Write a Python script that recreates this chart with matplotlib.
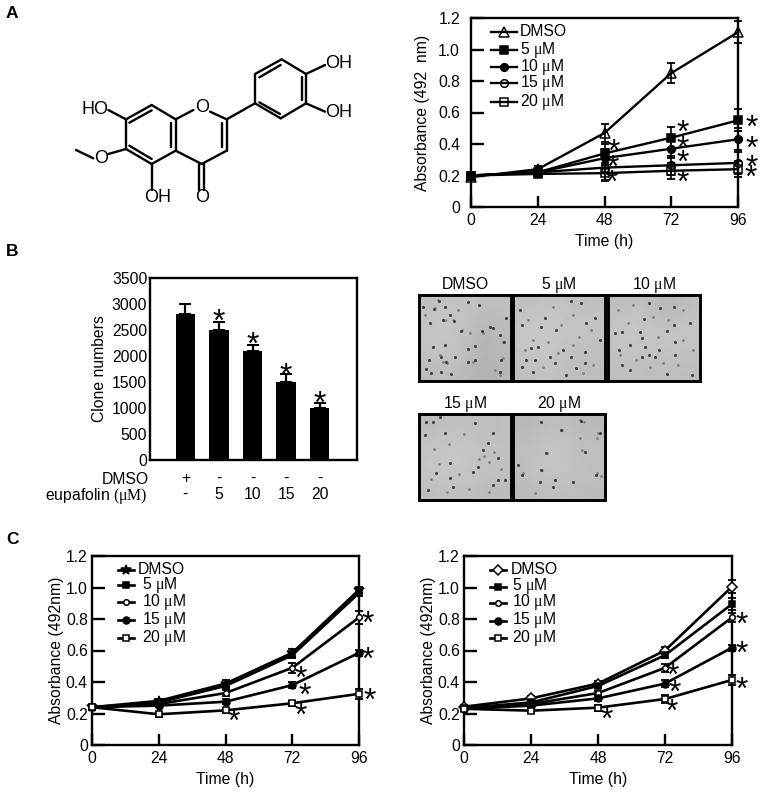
#!/usr/bin/env python3

import matplotlib
matplotlib.use('Agg')
from matplotlib import pyplot as plt

plt.rcParams['font.family'] = ['Liberation Sans', 'DejaVu Sans']
plt.rcParams['mathtext.fontset'] = 'custom'
plt.rcParams['mathtext.rm'] = 'Liberation Serif'
plt.rcParams['mathtext.it'] = 'Liberation Serif'
plt.rcParams['mathtext.default'] = 'rm'

W = 762
H = 795
FS = 11.3

time_h = [0, 24, 48, 72, 96]
time_labels = ['0', '24', '48', '72', '96']
absorb_ticks = [0, 0.2, 0.4, 0.6, 0.8, 1.0, 1.2]
absorb_labels = ['0', '0.2', '0.4', '0.6', '0.8', '1.0', '1.2']

# panel A, growth curves
a_dmso = [0.19, 0.24, 0.47, 0.85, 1.11]
a_5 = [0.20, 0.22, 0.34, 0.44, 0.55]
a_10 = [0.20, 0.22, 0.31, 0.37, 0.43]
a_15 = [0.20, 0.22, 0.25, 0.265, 0.28]
a_20 = [0.20, 0.21, 0.215, 0.23, 0.24]
a_dmso_err = [0.02, 0.02, 0.055, 0.065, 0.07]
a_5_err = [0.02, 0.02, 0.06, 0.065, 0.07]
a_10_err = [0.02, 0.02, 0.06, 0.06, 0.07]
a_15_err = [0.02, 0.02, 0.08, 0.06, 0.07]
a_20_err = [0.02, 0.02, 0.05, 0.05, 0.05]
a_star_x = [100.8, 100.8, 100.8, 100.4, 76, 76.3, 76, 76.3, 51.4, 50.8, 50.6]
a_star_y = [0.54, 0.41, 0.286, 0.22, 0.508, 0.41, 0.315, 0.19, 0.385, 0.286, 0.188]

# panel B, clone counts
clone_values = [2800, 2500, 2100, 1500, 1000]
clone_err = [200, 150, 120, 150, 100]
clone_ticks = [0, 500, 1000, 1500, 2000, 2500, 3000, 3500]
clone_labels = ['+\n-', '-\n5', '-\n10', '-\n15', '-\n20']
b_star_y = [2774, 2325, 1734, 1201]

# panel C left
cl_dmso = [0.24, 0.28, 0.39, 0.585, 0.985]
cl_5 = [0.24, 0.27, 0.375, 0.57, 0.965]
cl_10 = [0.24, 0.26, 0.33, 0.49, 0.81]
cl_15 = [0.24, 0.25, 0.275, 0.38, 0.585]
cl_20 = [0.24, 0.195, 0.22, 0.265, 0.325]
cl_dmso_err = [0.01, 0.015, 0.02, 0.025, 0.02]
cl_5_err = [0.01, 0.015, 0.02, 0.02, 0.02]
cl_10_err = [0.01, 0.01, 0.02, 0.03, 0.04]
cl_15_err = [0.01, 0.01, 0.015, 0.02, 0.02]
cl_20_err = [0.015, 0.015, 0.015, 0.015, 0.03]
cl_star_x = [99.2, 99.2, 99.8, 75.1, 76.5, 75.1, 51.0]
cl_star_y = [0.808, 0.578, 0.317, 0.461, 0.353, 0.226, 0.184]

# panel C right
cr_dmso = [0.243, 0.296, 0.39, 0.60, 1.005]
cr_5 = [0.235, 0.27, 0.375, 0.57, 0.895]
cr_10 = [0.235, 0.26, 0.33, 0.49, 0.81]
cr_15 = [0.23, 0.25, 0.296, 0.39, 0.618]
cr_20 = [0.23, 0.218, 0.237, 0.292, 0.413]
cr_dmso_err = [0.01, 0.015, 0.015, 0.025, 0.04]
cr_5_err = [0.01, 0.01, 0.015, 0.02, 0.04]
cr_10_err = [0.01, 0.01, 0.015, 0.025, 0.03]
cr_15_err = [0.01, 0.01, 0.015, 0.02, 0.02]
cr_20_err = [0.01, 0.015, 0.02, 0.025, 0.03]
cr_star_x = [99.6, 99.6, 99.6, 74.9, 75.5, 74.5, 51]
cr_star_y = [0.80, 0.614, 0.39, 0.48, 0.37, 0.25, 0.197]

dose_labels = ['DMSO', '5 $\\mu$M', '10 $\\mu$M', '15 $\\mu$M', '20 $\\mu$M']

# colonies in the plate photos, pixels inside each square
plate_titles = ['DMSO', '5 $\\mu$M', '10 $\\mu$M', '15 $\\mu$M', '20 $\\mu$M']
plate_dmso_x = [11, 15, 20, 26, 31, 35, 24, 42, 49, 60, 71, 63, 74, 81, 85, 14, 26, 49, 56, 10, 22, 27, 36, 49, 56, 82, 7, 12, 22, 32, 81, 4, 87]
plate_dmso_y = [28, 14, 6, 12, 20, 26, 25, 36, 7, 10, 32, 36, 33, 40, 47, 52, 50, 54, 51, 65, 62, 67, 62, 67, 65, 65, 74, 78, 77, 79, 77, 12, 23]
plate_5_x = [9, 32, 28, 43, 58, 68, 73, 82, 18, 25, 50, 58, 72, 72, 13, 22, 42, 53, 20, 9, 37, 63, 87, 7]
plate_5_y = [30, 23, 32, 35, 6, 8, 28, 23, 53, 52, 55, 62, 57, 68, 65, 65, 68, 80, 77, 72, 62, 73, 45, 15]
plate_10_x = [36, 14, 32, 59, 41, 52, 66, 66, 34, 37, 11, 22, 51, 47, 34, 41, 14, 7, 59, 84, 67, 82, 67, 22]
plate_10_y = [24, 37, 37, 36, 8, 13, 12, 30, 43, 52, 55, 50, 55, 62, 62, 60, 70, 38, 79, 80, 47, 28, 60, 75]
plate_15_x = [6, 74, 79, 54, 59, 79, 31, 17, 9, 34, 74, 69, 14, 26, 31, 7, 21, 56, 86, 64]
plate_15_y = [21, 19, 44, 58, 53, 66, 64, 59, 76, 73, 71, 29, 8, 19, 49, 8, 3, 9, 66, 36]
plate_20_x = [9, 5, 28, 28, 68, 48, 60, 42, 27, 72, 83, 40, 33, 87]
plate_20_y = [61, 51, 56, 8, 7, 16, 68, 66, 68, 38, 61, 73, 39, 19]

# fainter colonies
faint_dmso_x = [6, 19, 16, 26, 34, 43, 51, 64, 71, 84, 84, 14, 21, 24, 28, 49, 54, 76, 81, 39]
faint_dmso_y = [20, 5, 13, 25, 25, 35, 38, 38, 32, 47, 63, 52, 60, 67, 68, 67, 67, 75, 80, 15]
faint_5_x = [15, 40, 20, 35, 48, 60, 66, 78, 30, 45, 60, 80, 12, 70]
faint_5_y = [25, 12, 45, 47, 30, 20, 42, 35, 72, 58, 50, 70, 55, 78]
faint_10_x = [10, 25, 20, 45, 60, 75, 50, 75, 28, 42, 70, 12, 85, 55]
faint_10_y = [15, 10, 28, 22, 25, 15, 42, 45, 65, 72, 70, 60, 55, 68]
faint_15_x = [15, 30, 45, 60, 70, 75, 65, 20, 40, 50, 70, 82, 12, 28]
faint_15_y = [35, 30, 20, 45, 48, 38, 42, 50, 60, 75, 78, 55, 65, 78]
faint_20_x = [67, 71, 49, 85, 84, 34, 72, 69, 10, 29, 42, 60, 22, 84, 88, 67]
faint_20_y = [6, 8, 16, 19, 24, 39, 38, 36, 59, 56, 66, 68, 79, 59, 62, 24]

# rough brightness of each plate photo, coarse grid read by eye
plate_dmso_tone = [[198, 202, 204, 198, 200], [204, 206, 202, 192, 196], [202, 206, 200, 186, 194],
                   [200, 204, 198, 184, 192], [194, 198, 192, 182, 190]]
plate_5_tone = [[198, 200, 204, 196, 200], [204, 208, 206, 202, 202], [206, 208, 204, 204, 200],
                [202, 206, 204, 198, 198], [198, 202, 200, 196, 196]]
plate_10_tone = [[196, 200, 194, 190, 198], [202, 206, 200, 198, 202], [204, 206, 202, 204, 204],
                 [200, 202, 200, 202, 200], [198, 200, 196, 196, 196]]
plate_15_tone = [[194, 198, 200, 196, 198], [200, 204, 204, 198, 198], [204, 206, 206, 202, 200],
                 [204, 206, 204, 200, 200], [196, 200, 200, 196, 194]]
plate_20_tone = [[190, 194, 198, 194, 192], [196, 200, 202, 198, 196], [198, 202, 204, 200, 198],
                 [198, 202, 202, 200, 198], [192, 196, 198, 196, 194]]

# eupafolin skeleton, in 3x pixels of the top left corner
bonds = [
    ((378, 358), (455, 315)), ((388, 368), (455, 331)), ((455, 315), (527, 358)),
    ((527, 358), (527, 452)), ((513, 368), (513, 442)), ((527, 452), (455, 492)),
    ((455, 492), (378, 447)), ((455, 477), (388, 437)), ((378, 447), (378, 358)),
    ((527, 358), (580, 330)), ((630, 335), (680, 358)), ((680, 358), (680, 452)),
    ((665, 370), (665, 440)), ((680, 452), (605, 492)), ((605, 492), (527, 452)),
    ((597, 492), (597, 570)), ((613, 492), (613, 570)), ((680, 358), (765, 310)),
    ((765, 310), (842, 355)), ((778, 307), (840, 342)), ((842, 355), (918, 310)),
    ((918, 310), (918, 222)), ((905, 300), (905, 232)), ((918, 222), (845, 178)),
    ((845, 178), (765, 222)), ((842, 195), (778, 232)), ((765, 222), (765, 310)),
    ((918, 222), (975, 195)), ((918, 310), (975, 335)), ((378, 358), (325, 330)),
    ((378, 447), (325, 462)), ((280, 475), (228, 450)), ((455, 492), (455, 570)),
]
atoms = [('O', 605, 322), ('O', 605, 592), ('OH', 1015, 190), ('OH', 1015, 338),
         ('HO', 285, 327), ('O', 302, 475), ('OH', 472, 592)]


def px_axes(fig, left, top, right, bottom):
    return fig.add_axes([left / W, 1 - bottom / H, (right - left) / W, (bottom - top) / H])


def star(ax, x, y, size=23):
    # asterisk sits high in the em box, so pull the baseline down
    ax.annotate('*', (x, y), xytext=(0, -0.47 * size), textcoords='offset points',
                ha='center', va='baseline', fontsize=size, annotation_clip=False, zorder=6)


def frame(ax, lw=1.7):
    for s in ax.spines.values():
        s.set_linewidth(lw)


def key_rows(ax, styles, rows, handle, text_x):
    # hand placed key, rows are not evenly spaced in the original
    h = ax.bbox.height
    w = ax.bbox.width
    for st, row, label, tx in zip(styles, rows, dose_labels, text_x):
        y = 1 - row / h
        ax.plot([handle[0] / w, handle[1] / w], [y, y], transform=ax.transAxes, color='k', lw=st['lw'], zorder=5)
        ax.plot([(handle[0] + handle[1]) / 2 / w], [y], transform=ax.transAxes, color='k', marker=st['m'],
                ms=st['ms'], mfc=st['mfc'], mec='k', mew=1.1, zorder=5)
        ax.text(tx / w, y, label, transform=ax.transAxes, fontsize=FS, ha='left', va='center')


def curve_panel(ax, series, errors, styles, star_x, star_y, ylabel, rows, handle, text_x, ypad, ylabelpad):
    for vals, err, st in zip(series, errors, styles):
        ax.errorbar(time_h, vals, yerr=err, fmt='none', ecolor='k', elinewidth=1.2,
                    capsize=3, capthick=1.3, clip_on=False, zorder=3)
        ax.plot(time_h, vals, color='k', lw=st['lw'], marker=st['m'], ms=st['ms'],
                mfc=st['mfc'], mec='k', mew=1.1, clip_on=False, zorder=4)
    for x, y in zip(star_x, star_y):
        star(ax, x, y)
    ax.set_xlim(0, 96)
    ax.set_ylim(0, 1.2)
    ax.set_xticks(time_h)
    ax.set_xticklabels(time_labels)
    ax.set_yticks(absorb_ticks)
    ax.set_yticklabels(absorb_labels)
    ax.tick_params(axis='x', direction='in', length=8, width=1.7, labelsize=FS, pad=4.5)
    ax.tick_params(axis='y', direction='in', length=9.5, width=1.7, labelsize=FS, pad=ypad)
    ax.set_xlabel('Time (h)', fontsize=FS, labelpad=4)
    ax.set_ylabel(ylabel, fontsize=FS, labelpad=ylabelpad)
    frame(ax)
    key_rows(ax, styles, rows, handle, text_x)


def main():
    fig = plt.figure(figsize=(W / 100, H / 100), dpi=100)

    # panel letters
    fig.text(6 / W, 1 - 13 / H, 'A', fontsize=12.5, fontweight='bold', va='center')
    fig.text(6 / W, 1 - 252 / H, 'B', fontsize=12.5, fontweight='bold', va='center')
    fig.text(6 / W, 1 - 540 / H, 'C', fontsize=12.5, fontweight='bold', va='center')

    # structure
    ax = fig.add_axes([0, 1 - 240 / H, 400 / W, 240 / H])
    ax.set_xlim(0, 1200)
    ax.set_ylim(720, 0)
    ax.axis('off')
    for p, q in bonds:
        ax.plot([p[0], q[0]], [p[1], q[1]], color='k', lw=1.7, solid_capstyle='round')
    for name, x, y in atoms:
        ax.text(x, y, name, fontsize=13, ha='center', va='center')

    # A
    ax = px_axes(fig, 471, 18, 738, 207)
    styles_a = [
        {'m': '^', 'ms': 6.5, 'mfc': 'none', 'lw': 1.7},
        {'m': 's', 'ms': 5.5, 'mfc': 'k', 'lw': 1.7},
        {'m': 'o', 'ms': 5.5, 'mfc': 'k', 'lw': 1.7},
        {'m': 'o', 'ms': 5.5, 'mfc': 'none', 'lw': 1.7},
        {'m': 's', 'ms': 5.5, 'mfc': 'none', 'lw': 1.7},
    ]
    curve_panel(ax, [a_dmso, a_5, a_10, a_15, a_20],
                [a_dmso_err, a_5_err, a_10_err, a_15_err, a_20_err],
                styles_a, a_star_x, a_star_y, 'Absorbance (492  nm)',
                [14, 32, 49, 65, 84], (20, 46), [48.5] * 5, 8, 6)

    # B
    ax = px_axes(fig, 150, 278, 357, 460)
    xpos = list(range(len(clone_values)))
    ax.bar(xpos, clone_values, width=0.58, color='k')
    ax.errorbar(xpos, clone_values, yerr=[[0] * 5, clone_err], fmt='none', ecolor='k',
                elinewidth=1.6, capsize=4, capthick=1.5)
    for x, y in zip(xpos[1:], b_star_y):
        star(ax, x, y)
    ax.set_xlim(-1.055, 5.11)
    ax.set_ylim(0, 3500)
    ax.set_yticks(clone_ticks)
    ax.tick_params(axis='y', length=0, labelsize=FS, pad=2)
    ax.set_xticks(xpos)
    ax.set_xticklabels(clone_labels, linespacing=1.1)
    ax.tick_params(axis='x', length=0, labelsize=FS, pad=8)
    ax.set_ylabel('Clone numbers', fontsize=FS, labelpad=3.5)
    frame(ax)
    ax.text(-0.005, -0.105, 'DMSO', transform=ax.transAxes, ha='right', va='center', fontsize=FS)
    ax.text(-0.01, -0.2, 'eupafolin $(\\mu M)$', transform=ax.transAxes, ha='right', va='center', fontsize=FS)

    # plates
    plates = [
        (419, 295, plate_dmso_x, plate_dmso_y, faint_dmso_x, faint_dmso_y, plate_dmso_tone),
        (513, 295, plate_5_x, plate_5_y, faint_5_x, faint_5_y, plate_5_tone),
        (608, 295, plate_10_x, plate_10_y, faint_10_x, faint_10_y, plate_10_tone),
        (419, 414, plate_15_x, plate_15_y, faint_15_x, faint_15_y, plate_15_tone),
        (513, 414, plate_20_x, plate_20_y, faint_20_x, faint_20_y, plate_20_tone),
    ]
    for title, (left, top, xs, ys, fx, fy, tone) in zip(plate_titles, plates):
        ax = px_axes(fig, left, top, left + 92, top + 86)
        ax.imshow(tone, cmap='gray', vmin=0, vmax=265, interpolation='bicubic',
                  extent=(0, 92, 86, 0), aspect='auto')
        ax.scatter(fx, fy, s=4, color='#808080', linewidths=0)
        ax.scatter(xs, ys, s=5, color='#404040', linewidths=0)
        ax.set_xlim(0, 92)
        ax.set_ylim(86, 0)
        ax.set_xticks([])
        ax.set_yticks([])
        ax.set_title(title, fontsize=FS, pad=4)
        frame(ax, 2.1)

    # C
    ax = px_axes(fig, 92, 556, 359, 745)
    styles_cl = [
        {'m': '*', 'ms': 7.5, 'mfc': 'k', 'lw': 1.9},
        {'m': 's', 'ms': 5, 'mfc': 'k', 'lw': 1.9},
        {'m': 'o', 'ms': 4, 'mfc': 'w', 'lw': 1.9},
        {'m': 'o', 'ms': 5, 'mfc': 'k', 'lw': 1.9},
        {'m': 's', 'ms': 5, 'mfc': 'w', 'lw': 1.9},
    ]
    curve_panel(ax, [cl_dmso, cl_5, cl_10, cl_15, cl_20],
                [cl_dmso_err, cl_5_err, cl_10_err, cl_15_err, cl_20_err],
                styles_cl, cl_star_x, cl_star_y, 'Absorbance (492nm)',
                [13.5, 29, 46, 63.5, 81.5], (26, 42), [46, 50, 50, 50, 50], 3, 1)

    ax = px_axes(fig, 464, 556, 732, 745)
    styles_cr = [
        {'m': 'D', 'ms': 5, 'mfc': 'w', 'lw': 1.9},
        {'m': 's', 'ms': 5, 'mfc': 'k', 'lw': 1.9},
        {'m': 'o', 'ms': 4, 'mfc': 'w', 'lw': 1.9},
        {'m': 'o', 'ms': 5, 'mfc': 'k', 'lw': 1.9},
        {'m': 's', 'ms': 5, 'mfc': 'w', 'lw': 1.9},
    ]
    curve_panel(ax, [cr_dmso, cr_5, cr_10, cr_15, cr_20],
                [cr_dmso_err, cr_5_err, cr_10_err, cr_15_err, cr_20_err],
                styles_cr, cr_star_x, cr_star_y, 'Absorbance (492nm)',
                [14, 30.5, 46.5, 64.5, 82], (26, 42), [46.5, 47.5, 47.5, 47.5, 47.5], 3, 1)

    fig.savefig('out.png', dpi=100)


if __name__ == "__main__":
    main()
